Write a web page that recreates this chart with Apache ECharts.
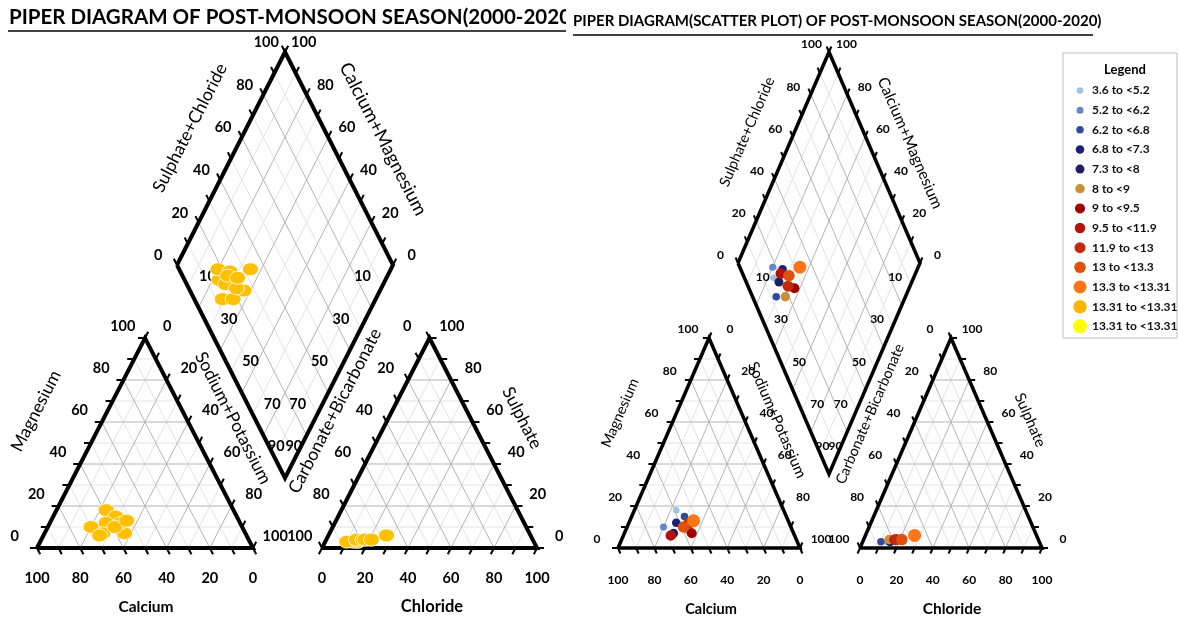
<!DOCTYPE html>
<html><head><meta charset="utf-8">
<script src="https://cdn.jsdelivr.net/npm/echarts@6/dist/echarts.min.js"></script>
<style>html,body{margin:0;padding:0;background:#fff;}#chart{width:1178px;height:619px;}</style>
</head><body><div id="chart"></div>
<script>
// ================= DATA =================
const sampleIds  = ['S1','S2','S3','S4','S5','S6','S7','S8','S9','S10','S11'];
// cation percentages (meq %)
const sampleNaK  = [23, 20, 29, 26, 27, 34, 37, 26, 33, 31, 35];
const sampleMg   = [18, 10, 15, 12,  7,  9,  7,  6, 12, 10, 13];
// anion percentages (meq %)
const sampleCl   = [13, 15, 10, 19, 15, 14, 21, 17, 18, 21, 27];
const sampleSO4  = [ 3,  3,  3,  4,  3,  4,  4,  4,  4,  4,  6];
// legend class of each sample (index into classLabels)
const sampleClass = [0, 1, 2, 3, 4, 5, 6, 7, 8, 9, 10];

const classLabels = ['3.6 to <5.2','5.2 to <6.2','6.2 to <6.8','6.8 to <7.3','7.3 to <8','8 to <9',
  '9 to <9.5','9.5 to <11.9','11.9 to <13','13 to <13.3','13.3 to <13.31','13.31 to <13.31','13.31 to <13.31'];
const classColors = ['#9DC3E6','#6487C6','#2F4B9B','#17207A','#1F1F5C','#CD8E38','#A00000','#B3120C',
  '#C42A0A','#E0510F','#FF7518','#FFB400','#FFFF00'];
const classSizes  = [6.5, 7, 7.5, 8.5, 9, 9.5, 10, 10.5, 11, 11.5, 13, 13.5, 14];

const tickLabelValues   = [0, 20, 40, 60, 80, 100];
const tickMarkValues    = [0, 10, 20, 30, 40, 50, 60, 70, 80, 90, 100];
const diamondLowerValues = [10, 30, 50, 70, 90];

const leftTitle  = 'PIPER DIAGRAM OF POST-MONSOON SEASON(2000-2020)';
const rightTitle = 'PIPER DIAGRAM(SCATTER PLOT) OF POST-MONSOON SEASON(2000-2020)';
const axisNames = ['Magnesium','Sodium+Potassium','Calcium','Sulphate+Chloride','Calcium+Magnesium',
  'Carbonate+Bicarbonate','Sulphate','Chloride'];

// ================= LAYOUT =================
const W = 1178, H = 619;
const FONT = "Lato, 'Open Sans', 'DejaVu Sans', sans-serif";
const PANELS = [
  { cat:{bl:[37,548],w:216,h:210}, an:{bl:[322,548],w:215,h:210}, dia:{top:[285,52],hw:108,hh:213},
    labelDist:25, diaLabelDist:21, innerDist:22, bottomDist:30, tickLen:7, tickFont:14.5, outlineW:4, tickW:2,
    names:[[36,411,'up',17.5,'normal'],[233,418,'down',17.5,'normal'],[146,607,0,15.5,'bold'],
           [190,128,'up',17.5,'normal'],[383,139,'down',18.5,'normal'],[335,411,'up',17.5,'normal'],
           [522,418,'down',17.5,'normal'],[432,607,0,16.5,'bold']],
    colored:false },
  { cat:{bl:[618,548],w:182,h:210}, an:{bl:[860,548],w:182,h:210}, dia:{top:[829,52],hw:91,hh:211},
    labelDist:23, diaLabelDist:19, innerDist:17, bottomDist:32, tickLen:6, tickFont:12, outlineW:3.5, tickW:2,
    names:[[620,413,'up',14.5,'normal'],[777,420,'down',15,'normal'],[711,609,0,14.5,'bold'],
           [747,132,'up',14.5,'normal'],[910,143,'down',15.5,'normal'],[870,414,'up',14.5,'normal'],
           [1030,420,'down',15,'normal'],[952,609,0,15.5,'bold']],
    colored:true }
];

// ================= GEOMETRY HELPERS =================
const add=(a,b)=>[a[0]+b[0],a[1]+b[1]], sub=(a,b)=>[a[0]-b[0],a[1]-b[1]], mul=(a,k)=>[a[0]*k,a[1]*k];
const norm=a=>{const l=Math.hypot(a[0],a[1]);return [a[0]/l,a[1]/l];};
function triangle(bl,w,h){const A=bl,B=[bl[0]+w,bl[1]],C=[bl[0]+w/2,bl[1]-h];
  return {A,B,C,cen:mul(add(add(A,B),C),1/3),f:(u,v)=>add(A,add(mul(sub(B,A),u),mul(sub(C,A),v)))};}
function rhombus(top,hw,hh){const T=top,L=[top[0]-hw,top[1]+hh],R=[top[0]+hw,top[1]+hh],Bm=[top[0],top[1]+2*hh];
  return {T,L,R,Bm,cen:[top[0],top[1]+hh],g:(p,q)=>add(L,add(mul(sub(Bm,L),p),mul(sub(T,L),q)))};}
function outN(P,Q,cen){const d=sub(Q,P);let n=norm([-d[1],d[0]]);const m=mul(add(P,Q),0.5);
  if((m[0]-cen[0])*n[0]+(m[1]-cen[1])*n[1]<0)n=mul(n,-1);return n;}

const minorLines=[], majorLines=[], outlines=[], tickLines=[], texts=[];
const leftPts=[], rightPts=[];

function buildPanel(P){
  const ct=triangle(P.cat.bl,P.cat.w,P.cat.h), at=triangle(P.an.bl,P.an.w,P.an.h), dm=rhombus(P.dia.top,P.dia.hw,P.dia.hh);
  for(let i=1;i<10;i++){const t=i/10, arr=(i%2===0)?majorLines:minorLines;
    [ct,at].forEach(tr=>{arr.push([tr.f(0,t),tr.f(1-t,t)]);arr.push([tr.f(t,0),tr.f(t,1-t)]);arr.push([tr.f(1-t,0),tr.f(0,1-t)]);});
    arr.push([dm.g(t,0),dm.g(t,1)]);arr.push([dm.g(0,t),dm.g(1,t)]);
  }
  outlines.push([ct.A,ct.B,ct.C,ct.A],[at.A,at.B,at.C,at.A],[dm.L,dm.T,dm.R,dm.Bm,dm.L]);
  const sides=[
    {fn:v=>ct.f(0,v/100),dir:sub(ct.A,ct.B),out:outN(ct.A,ct.C,ct.cen)},
    {fn:v=>ct.f(1-v/100,0),dir:sub(ct.B,ct.C),bottom:true},
    {fn:v=>ct.f(v/100,1-v/100),dir:sub(ct.C,ct.A),out:outN(ct.B,ct.C,ct.cen)},
    {fn:v=>at.f(0,1-v/100),dir:sub(at.C,at.B),out:outN(at.A,at.C,at.cen)},
    {fn:v=>at.f(v/100,0),dir:sub(at.A,at.C),bottom:true},
    {fn:v=>at.f(1-v/100,v/100),dir:sub(at.B,at.A),out:outN(at.B,at.C,at.cen)},
    {fn:v=>dm.g(0,v/100),dir:sub(dm.L,dm.Bm),out:outN(dm.L,dm.T,dm.cen),dia:true},
    {fn:v=>dm.g(1-v/100,1),dir:sub(dm.T,dm.L),out:outN(dm.T,dm.R,dm.cen),dia:true}
  ];
  sides.forEach(s=>{
    const d=norm(s.dir);
    tickMarkValues.forEach(v=>{const p=s.fn(v);tickLines.push([p,add(p,mul(d,P.tickLen))]);});
    tickLabelValues.forEach(v=>{const p=s.fn(v);
      const off=s.bottom?[0,P.bottomDist]:mul(s.out,s.dia?P.diaLabelDist:P.labelDist);
      const q=add(p,off);texts.push({x:q[0],y:q[1],text:String(v),size:P.tickFont,weight:'bold'});});
  });
  const inL=mul(outN(dm.L,dm.Bm,dm.cen),-1), inR=mul(outN(dm.R,dm.Bm,dm.cen),-1);
  diamondLowerValues.forEach(v=>{
    let q=add(dm.g(v/100,0),mul(inL,P.innerDist));texts.push({x:q[0],y:q[1],text:String(v),size:P.tickFont,weight:'bold'});
    q=add(dm.g(1,1-v/100),mul(inR,P.innerDist));texts.push({x:q[0],y:q[1],text:String(v),size:P.tickFont,weight:'bold'});
  });
  const ang=Math.atan2(P.cat.h,P.cat.w/2)*180/Math.PI;
  P.names.forEach((nm,i)=>{texts.push({x:nm[0],y:nm[1],text:axisNames[i],size:nm[3],weight:nm[4],
    rot:nm[2]==='up'?ang:(nm[2]==='down'?-ang:0)});});
  // sample points
  const order=sampleIds.map((_,i)=>i).sort((a,b)=>sampleClass[a]-sampleClass[b]);
  const target=P.colored?rightPts:leftPts;
  ['cat','an','dia'].forEach(kind=>{
    order.forEach(i=>{
      let xy;
      if(kind==='cat') xy=ct.f(sampleNaK[i]/100,sampleMg[i]/100);
      else if(kind==='an') xy=at.f(sampleCl[i]/100,sampleSO4[i]/100);
      else xy=dm.g(sampleNaK[i]/100,(sampleCl[i]+sampleSO4[i])/100);
      target.push({name:sampleIds[i],value:xy,cls:sampleClass[i]});
    });
  });
}
PANELS.forEach(buildPanel);

// legend (right panel)
const legendBox={x:1063,y:53,w:114,h:285};
const legendDots=[];
texts.push({x:1125,y:70,text:'Legend',size:13,weight:'bold'});
classLabels.forEach((lab,k)=>{
  const y=90.5+k*19.65;
  legendDots.push({value:[1080,y],symbolSize:classSizes[k],itemStyle:{color:classColors[k],opacity:1}});
  texts.push({x:1092,y:y,text:lab,size:12,weight:'bold',align:'left',color:'#111'});
});

const linesSeries=(data,color,width,z,join)=>({type:'lines',coordinateSystem:'cartesian2d',polyline:true,silent:true,z,
  data:data.map(c=>({coords:c})),lineStyle:{color,width,opacity:1,join:join||'miter',cap:'butt'}});

const option={
  animation:false,backgroundColor:'#fff',
  grid:{left:0,right:0,top:0,bottom:0},
  xAxis:{type:'value',min:0,max:W,show:false},
  yAxis:{type:'value',min:0,max:H,inverse:true,show:false},
  title:[
    {text:leftTitle,left:9,top:7,padding:0,z:6,textStyle:{fontFamily:FONT,fontSize:20.5,fontWeight:'bold',color:'#000'}},
    {text:rightTitle,left:573,top:6,padding:[8,4,2,0],z:8,backgroundColor:'#fff',textStyle:{fontFamily:FONT,fontSize:15,fontWeight:'bold',color:'#000'}}
  ],
  graphic:[
    {type:'rect',shape:{x:566,y:0,width:8,height:30},style:{fill:'#fff'},z:7},
    {type:'line',shape:{x1:8,y1:31,x2:566,y2:31},style:{stroke:'#000',lineWidth:1.5},z:101},
    {type:'line',shape:{x1:573,y1:35,x2:1093,y2:35},style:{stroke:'#000',lineWidth:1.5},z:101},
    {type:'rect',shape:{x:legendBox.x,y:legendBox.y,width:legendBox.w,height:legendBox.h},style:{fill:'none',stroke:'#bfbfbf',lineWidth:1},z:1}
  ],
  series:[
    linesSeries(minorLines,'#e3e3e3',1,1),
    linesSeries(majorLines,'#b4b4b4',1,2),
    linesSeries(tickLines,'#000',2,3),
    linesSeries(outlines.slice(0,3),'#000',PANELS[0].outlineW,4),
    linesSeries(outlines.slice(3),'#000',PANELS[1].outlineW,4),
    {type:'custom',coordinateSystem:'cartesian2d',silent:true,z:5,
      data:texts.map((t,i)=>[t.x,t.y,i]),
      renderItem:(params,api)=>{const t=texts[api.value(2)];const p=api.coord([api.value(0),api.value(1)]);
        return {type:'text',x:p[0],y:p[1],rotation:(t.rot||0)*Math.PI/180,
          style:{text:t.text,fontFamily:FONT,fontSize:t.size,fontWeight:t.weight,fill:t.color||'#000',
            align:t.align||'center',verticalAlign:'middle'}};}},
    {type:'scatter',name:'Samples (all)',z:6,symbolSize:[16,13],
      itemStyle:{color:'#FFC000',borderColor:'#fff',borderWidth:0.8,opacity:1},
      data:leftPts.map(p=>({name:p.name,value:p.value}))},
    {type:'scatter',name:'Samples (by class)',z:6,
      data:rightPts.map(p=>({name:p.name,value:p.value,symbolSize:classSizes[p.cls],itemStyle:{color:classColors[p.cls],opacity:1}}))},
    {type:'scatter',name:'Legend',z:6,data:legendDots}
  ]
};
const chart=echarts.init(document.getElementById('chart'),null,{renderer:'canvas'});
chart.setOption(option);
</script></body></html>
